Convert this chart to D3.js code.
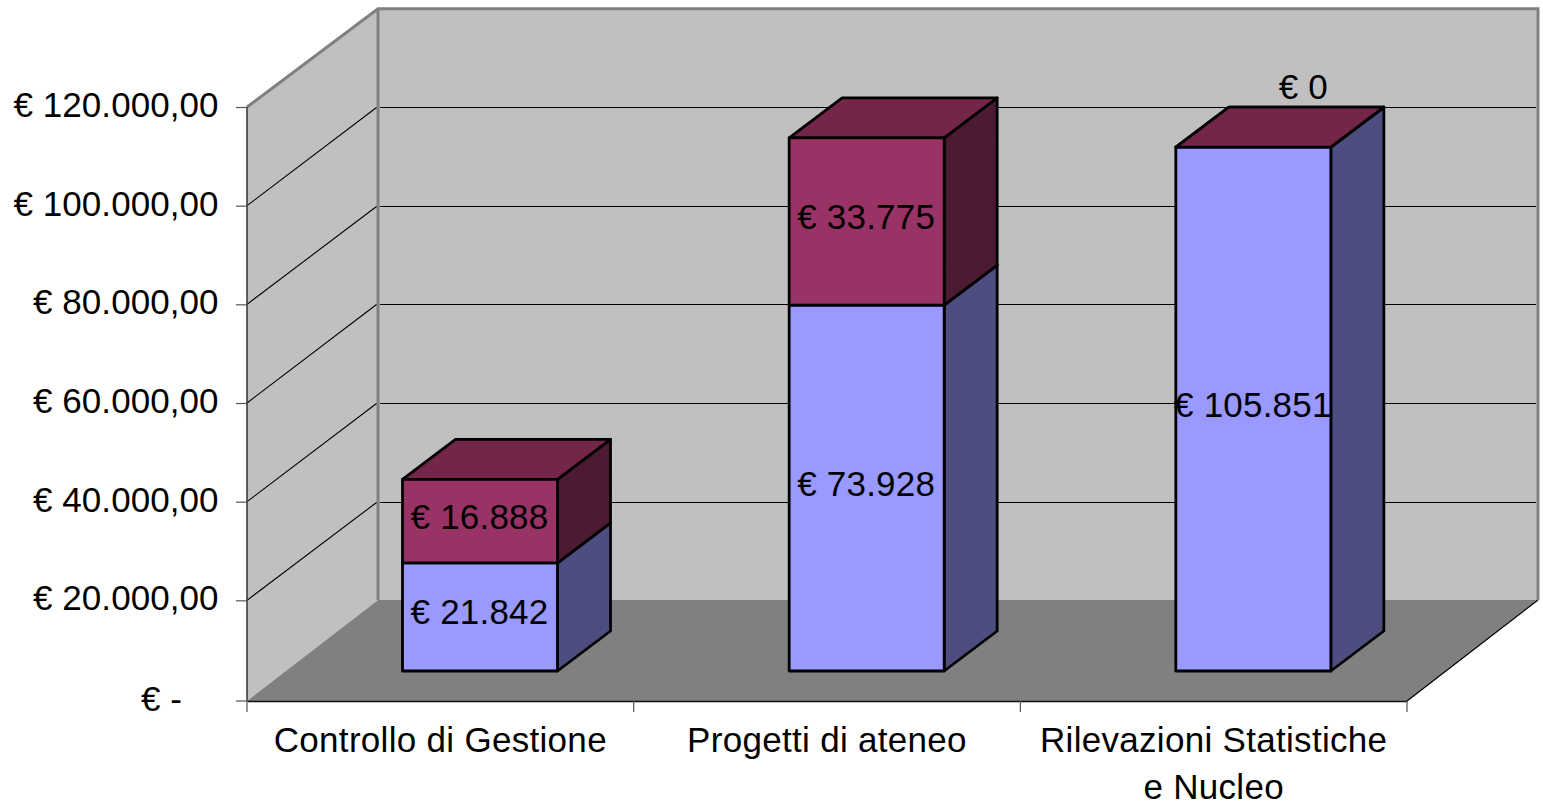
<!DOCTYPE html>
<html>
<head>
<meta charset="utf-8">
<script src="https://cdn.jsdelivr.net/npm/d3@7"></script>
<style>
  html, body { margin: 0; padding: 0; background: #fff; overflow: hidden; }
  text { font-family: "Liberation Sans", Arial, sans-serif; fill: #000; }
</style>
</head>
<body>
<svg id="plot" width="1543" height="802"></svg>
<script>
//the data
let categories = ["Controllo di Gestione", "Progetti di ateneo", "Rilevazioni Statistiche e Nucleo"];
let categoryLines = [["Controllo di Gestione"], ["Progetti di ateneo"], ["Rilevazioni Statistiche", "e Nucleo"]];
let lowerValues = [21842, 73928, 105851];
let upperValues = [16888, 33775, 0];
let yTicks = [0, 20000, 40000, 60000, 80000, 100000, 120000];
let yTickLabels = ["€ -", "€ 20.000,00", "€ 40.000,00", "€ 60.000,00", "€ 80.000,00", "€ 100.000,00", "€ 120.000,00"];

let svg = d3.select("#plot");

//front plane of the 3d box
let x_scale = d3.scaleBand(categories, [247, 1407]);
let y_scale = d3.scaleLinear([0, 120000], [699, 107]);
//the bars stand inside the floor, on their own slightly taller scale
let bar_scale = d3.scaleLinear([0, 120000], [671, 77]);

//the floor line is a little under the axis zero
let floor_y = 701, floor_back_y = 600;
//how far the back wall is shifted from the front plane
let wall_dx = 131, wall_dy = -98.7;
let bar_dx = 53, bar_dy = -40;
let bar_offset = 155.5, bar_width = 155;

let pts = (a) => a.map((p) => p.join(",")).join(" ");

let x0 = x_scale.range()[0], x1 = x_scale.range()[1];
let yTop = y_scale(120000);
let back_top = yTop + wall_dy + 0.5;

//back wall
svg.append("polygon")
  .attr("points", pts([[x0 + wall_dx, back_top], [x1 + wall_dx, back_top], [x1 + wall_dx, floor_back_y], [x0 + wall_dx, floor_back_y]]))
  .attr("fill", "#c0c0c0");
//side wall
svg.append("polygon")
  .attr("points", pts([[x0, yTop], [x0 + wall_dx, back_top], [x0 + wall_dx, floor_back_y], [x0, floor_y]]))
  .attr("fill", "#c0c0c0");
//floor
svg.append("polygon")
  .attr("points", pts([[x0, floor_y], [x0 + wall_dx, floor_back_y], [x1 + wall_dx, floor_back_y], [x1, floor_y]]))
  .attr("fill", "#808080");
svg.append("line")
  .attr("x1", x1).attr("y1", floor_y).attr("x2", x1 + wall_dx).attr("y2", floor_back_y)
  .attr("stroke", "#000").attr("stroke-width", 1.3);

//wall edges
svg.append("polyline")
  .attr("points", pts([[x0, yTop], [x0 + wall_dx, back_top], [x1 + wall_dx, back_top], [x1 + wall_dx, floor_back_y]]))
  .attr("fill", "none").attr("stroke", "#808080").attr("stroke-width", 3);
svg.append("line")
  .attr("x1", x0 + wall_dx).attr("y1", back_top).attr("x2", x0 + wall_dx).attr("y2", floor_back_y)
  .attr("stroke", "#808080").attr("stroke-width", 3);

//gridlines on both walls
let grid = svg.append("g").attr("fill", "none").attr("stroke", "#000");
yTicks.filter((t) => t > 0 && t < 120000).forEach((t) => {
  let back_y = Math.round(y_scale(t) + wall_dy) + 0.5;
  grid.append("line").attr("x1", x0 + wall_dx + 2).attr("x2", x1 + wall_dx - 2)
    .attr("y1", back_y).attr("y2", back_y).attr("stroke-width", 1).attr("shape-rendering", "crispEdges");
  grid.append("line").attr("x1", x0).attr("x2", x0 + wall_dx - 1.5)
    .attr("y1", y_scale(t)).attr("y2", back_y).attr("stroke-width", 1.1);
});

//one stacked block: front, top, side
function block(gr, i, bottom, value, front, top, side) {
  let left = x_scale(categories[i]) + bar_offset;
  let right = left + bar_width;
  let yb = bar_scale(bottom);
  let yt = bar_scale(bottom + value);
  gr.append("polygon")
    .attr("points", pts([[right, yb], [right + bar_dx, yb + bar_dy], [right + bar_dx, yt + bar_dy], [right, yt]]))
    .attr("fill", side);
  gr.append("polygon")
    .attr("points", pts([[left, yt], [left + bar_dx, yt + bar_dy], [right + bar_dx, yt + bar_dy], [right, yt]]))
    .attr("fill", top);
  gr.append("rect")
    .attr("x", left).attr("y", yt).attr("width", bar_width).attr("height", yb - yt)
    .attr("fill", front);
}

let bars = svg.append("g").attr("stroke", "#000").attr("stroke-width", 2.8).attr("stroke-linejoin", "round");
categories.forEach((c, i) => {
  let gr = bars.append("g");
  block(gr, i, 0, lowerValues[i], "#9999ff", "#4d4d80", "#4d4d80");
  block(gr, i, lowerValues[i], upperValues[i], "#993366", "#732649", "#4c1a33");
});

//value labels
let euro = (v) => "€ " + d3.format(",")(v).replace(/,/g, ".");
let labels = svg.append("g").attr("font-size", 35).attr("letter-spacing", 0.2).attr("text-anchor", "middle");
categories.forEach((c, i) => {
  let mid = x_scale(c) + bar_offset + bar_width / 2;
  labels.append("text")
    .attr("x", mid - 0.5)
    .attr("y", bar_scale(lowerValues[i] / 2) + 7.5)
    .text(euro(lowerValues[i]));
  let upper = labels.append("text").text(euro(upperValues[i]));
  if (upperValues[i] > 0) {
    upper.attr("x", mid - 0.5).attr("y", bar_scale(lowerValues[i] + upperValues[i] / 2) + 7.5);
  } else {
    //empty segment: label sits above the top face
    upper.attr("x", mid + 50).attr("y", bar_scale(lowerValues[i]) - 48);
  }
});

//y axis
let yAxis = d3.axisLeft(y_scale)
  .tickValues(yTicks)
  .tickSize(11)
  .tickFormat((d, i) => yTickLabels[i]);
let y_ax = svg.append("g").attr("transform", `translate(${x0},0)`).call(yAxis);
y_ax.select(".domain").attr("d", `M0,${yTop}V${floor_y}`).attr("stroke", "#333").attr("stroke-width", 1.5);
y_ax.selectAll(".tick line").attr("stroke", "#555").attr("stroke-width", 1.2);
y_ax.selectAll(".tick text").attr("font-size", 35).attr("font-family", null).attr("letter-spacing", 0.05)
  .attr("dy", "9.5px")
  .attr("x", (d) => d === 0 ? -65 : -28.5);
//zero tick follows the floor line
y_ax.selectAll(".tick").filter((d) => d === 0).attr("transform", `translate(0,${floor_y})`);

//x axis
let xAxis = d3.axisBottom(x_scale).tickSize(0).tickFormat("");
let x_ax = svg.append("g").attr("transform", `translate(0,${floor_y})`).call(xAxis);
x_ax.select(".domain").attr("stroke", "#111").attr("stroke-width", 1.5);
//ticks sit between the categories
let edges = categories.map((c) => x_scale(c)).concat([x1]);
x_ax.selectAll(".edge").data(edges).join("line").attr("class", "edge")
  .attr("x1", (d) => d).attr("x2", (d) => d).attr("y1", 0).attr("y2", 11)
  .attr("stroke", "#555").attr("stroke-width", 1.2);

//category labels, wrapped by hand like the original
let cat_text = svg.append("g").attr("font-size", 35).attr("letter-spacing", 0.3).attr("text-anchor", "middle");
categories.forEach((c, i) => {
  let t = cat_text.append("text");
  categoryLines[i].forEach((line, j) => {
    t.append("tspan")
      .attr("x", x_scale(c) + x_scale.bandwidth() / 2)
      .attr("y", 752 + j * 46.5)
      .text(line);
  });
});
</script>
</body>
</html>
